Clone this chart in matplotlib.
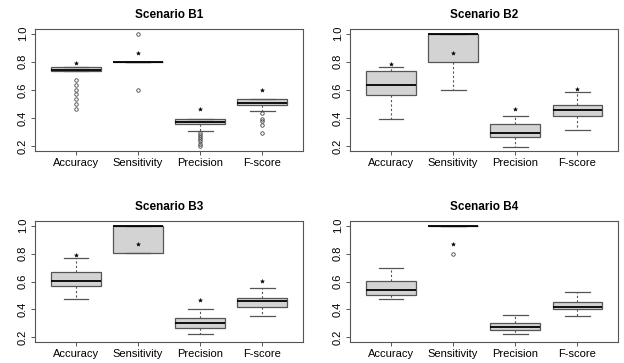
import matplotlib
matplotlib.use('Agg')
import matplotlib.pyplot as plt

plt.rcParams['font.family'] = ['Liberation Sans', 'DejaVu Sans']

metrics = ['Accuracy', 'Sensitivity', 'Precision', 'F-score']
titles = ['Scenario B1', 'Scenario B2', 'Scenario B3', 'Scenario B4']

# box stats: (whislo, q1, med, q3, whishi)
b1_stats = [(0.733, 0.733, 0.74, 0.766, 0.766),
            (0.80, 0.80, 0.80, 0.80, 0.80),
            (0.312, 0.36, 0.377, 0.398, 0.398),
            (0.453, 0.496, 0.505, 0.534, 0.534)]
b1_fliers = [[0.670, 0.635, 0.601, 0.570, 0.539, 0.503, 0.467],
             [1.0, 0.60],
             [0.295, 0.28, 0.27, 0.255, 0.24, 0.22, 0.20],
             [0.434, 0.398, 0.38, 0.35, 0.295]]
b1_stars = [0.79, 0.864, 0.463, 0.599]

b2_stats = [(0.398, 0.563, 0.637, 0.733, 0.764),
            (0.60, 0.797, 1.0, 1.0, 1.0),
            (0.198, 0.264, 0.296, 0.36, 0.415),
            (0.32, 0.415, 0.455, 0.496, 0.587)]
b2_fliers = [[], [], [], []]
b2_stars = [0.783, 0.861, 0.465, 0.606]

b3_stats = [(0.473, 0.565, 0.607, 0.669, 0.769),
            (0.801, 0.801, 1.0, 1.0, 1.0),
            (0.222, 0.267, 0.304, 0.341, 0.403),
            (0.353, 0.417, 0.461, 0.48, 0.556)]
b3_fliers = [[], [], [], []]
b3_stars = [0.79, 0.866, 0.466, 0.602]

b4_stats = [(0.473, 0.50, 0.542, 0.602, 0.70),
            (1.0, 1.0, 1.0, 1.0, 1.0),
            (0.222, 0.256, 0.277, 0.30, 0.362),
            (0.353, 0.404, 0.418, 0.457, 0.528)]
b4_fliers = [[], [0.80], [], []]
b4_stars = [None, 0.866, None, None]

all_stats = [b1_stats, b2_stats, b3_stats, b4_stats]
all_fliers = [b1_fliers, b2_fliers, b3_fliers, b4_fliers]
all_stars = [b1_stars, b2_stars, b3_stars, b4_stars]

fig = plt.figure(figsize=(6.24, 3.63), dpi=100)
positions = [[0.056, 0.584, 0.430, 0.336],
             [0.561, 0.584, 0.430, 0.336],
             [0.056, 0.058, 0.430, 0.333],
             [0.561, 0.058, 0.430, 0.333]]

frame_col = '#555555'
for k in range(4):
    ax = fig.add_axes(positions[k])
    boxes = []
    for i in range(4):
        lo, q1, med, q3, hi = all_stats[k][i]
        boxes.append({'whislo': lo, 'q1': q1, 'med': med, 'q3': q3,
                      'whishi': hi, 'fliers': all_fliers[k][i],
                      'label': metrics[i]})
    ax.bxp(boxes, positions=[1, 2, 3, 4], widths=0.8, patch_artist=True,
           boxprops=dict(facecolor='#d3d3d3', edgecolor='#555555', linewidth=0.9),
           medianprops=dict(color='black', linewidth=1.3),
           whiskerprops=dict(color='#555555', linestyle=(0, (2, 2)), linewidth=0.8),
           capprops=dict(color='#555555', linewidth=0.9),
           capwidths=0.4,
           flierprops=dict(marker='o', markersize=2.5, markerfacecolor='none',
                           markeredgecolor='#444444', markeredgewidth=0.6))
    for i, s in enumerate(all_stars[k]):
        if s is not None:
            ax.plot(i + 1, s, marker='*', color='black', markersize=3,
                    markeredgewidth=0.3, linestyle='none')
    ax.set_xlim(0.34, 4.66)
    ax.set_ylim(0.168, 1.032)
    ax.set_yticks([0.2, 0.4, 0.6, 0.8, 1.0])
    ax.set_yticklabels(['0.2', '0.4', '0.6', '0.8', '1.0'], rotation=90, va='center')
    ax.set_xticks([1, 2, 3, 4])
    ax.set_xticklabels(metrics)
    ax.tick_params(labelsize=8, length=3, width=0.7, color=frame_col, pad=2)
    for sp in ax.spines.values():
        sp.set_color(frame_col)
        sp.set_linewidth(0.8)
    ax.set_title(titles[k], fontsize=8.5, fontweight='bold', pad=8)

fig.savefig('out.png', dpi=100)
